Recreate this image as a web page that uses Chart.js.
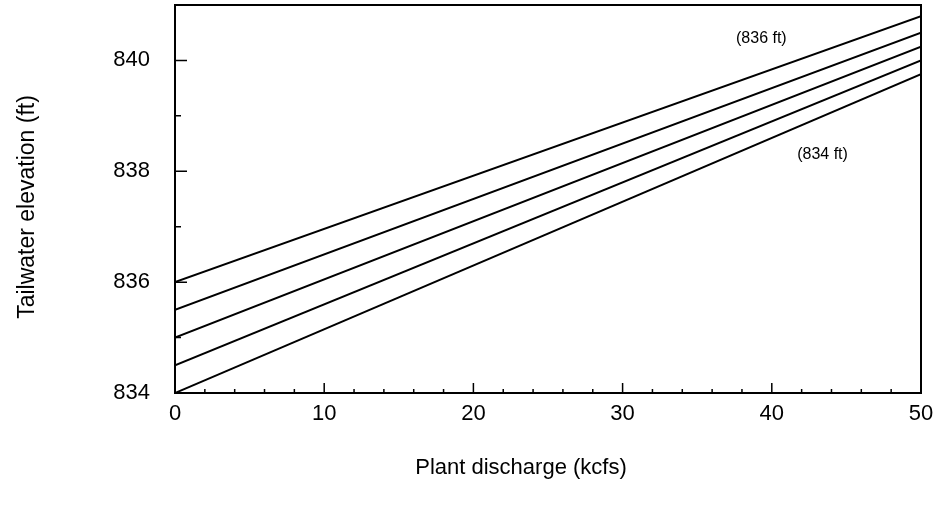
<!DOCTYPE html>
<html>
<head>
<meta charset="utf-8">
<script src="https://cdn.jsdelivr.net/npm/chart.js@4/dist/chart.umd.min.js"></script>
<style>
  body { margin: 0; background: #fff; }
</style>
</head>
<body>
<canvas id="tailwaterChart" width="937" height="522"></canvas>
<script>
// plant discharge (kcfs) at the two ends of each rating line
var discharge = [0, 50];

// tailwater elevation (ft) for each rating line, at 0 and 50 kcfs
var tailwater836 = [836.0, 840.8];
var tailwater8355 = [835.5, 840.5];
var tailwater835 = [835.0, 840.25];
var tailwater8345 = [834.5, 840.0];
var tailwater834 = [834.0, 839.75];

var xTicks = [0, 10, 20, 30, 40, 50];
var yTicks = [834, 836, 838, 840];

// line notes in data coordinates
var noteText = ['(836 ft)', '(834 ft)'];
var noteX = [39.3, 43.4];
var noteY = [840.4, 838.3];

var xTitle = 'Plant discharge (kcfs)';
var yTitle = 'Tailwater elevation (ft)';

function toPoints(ys) {
    return discharge.map(function (d, i) { return { x: d, y: ys[i] }; });
}

var allLines = [tailwater836, tailwater8355, tailwater835, tailwater8345, tailwater834];

var font = '"Liberation Sans", Arial, Helvetica, sans-serif';

// box frame, inward tick marks, axis titles and the line notes
var frameTicks = {
    id: 'frameTicks',
    afterDraw: function (chart) {
        var ctx = chart.ctx;
        var a = chart.chartArea;
        var x = chart.scales.x;
        var y = chart.scales.y;
        ctx.save();
        ctx.strokeStyle = '#000';
        ctx.lineWidth = 2;
        ctx.beginPath();
        ctx.moveTo(a.left, a.top);
        ctx.lineTo(a.right, a.top);
        ctx.lineTo(a.right, a.bottom);
        ctx.stroke();

        ctx.lineWidth = 1.5;
        ctx.beginPath();
        for (var v = 2; v < 50; v += 2) {
            var px = x.getPixelForValue(v);
            var len = v % 10 === 0 ? 10 : 4;
            ctx.moveTo(px, a.bottom);
            ctx.lineTo(px, a.bottom - len);
        }
        for (var w = 835; w <= 840; w++) {
            var py = y.getPixelForValue(w);
            var l2 = w % 2 === 0 ? 12 : 6;
            ctx.moveTo(a.left, py);
            ctx.lineTo(a.left + l2, py);
        }
        ctx.stroke();

        ctx.fillStyle = '#000';
        ctx.textAlign = 'center';
        ctx.textBaseline = 'middle';
        ctx.font = '16px ' + font;
        noteText.forEach(function (t, i) {
            ctx.fillText(t, x.getPixelForValue(noteX[i]), y.getPixelForValue(noteY[i]));
        });

        ctx.font = '22px ' + font;
        ctx.fillText(xTitle, 521, 468);

        ctx.font = '23px ' + font;
        ctx.translate(28, 207);
        ctx.rotate(-Math.PI / 2);
        ctx.fillText(yTitle, 0, 0);
        ctx.restore();
    }
};

function noPad(scale) {
    scale.paddingTop = 0;
    scale.paddingBottom = 0;
    scale.paddingLeft = 0;
    scale.paddingRight = 0;
}

var ctx = document.getElementById('tailwaterChart').getContext('2d');
var tailwaterChart = new Chart(ctx, {
    type: 'scatter',
    data: {
        datasets: allLines.map(function (ys) {
            return {
                data: toPoints(ys),
                showLine: true,
                borderColor: '#000',
                borderWidth: 2,
                pointRadius: 0,
                fill: false
            };
        })
    },
    options: {
        responsive: false,
        animation: false,
        layout: { padding: { top: 5, right: 16, left: 0, bottom: 0 } },
        plugins: {
            legend: { display: false },
            tooltip: { enabled: false }
        },
        scales: {
            x: {
                type: 'linear',
                min: 0,
                max: 50,
                afterBuildTicks: function (scale) {
                    scale.ticks = xTicks.map(function (v) { return { value: v }; });
                },
                afterFit: function (scale) { scale.height = 129; noPad(scale); },
                grid: { display: false, drawTicks: false },
                border: { display: true, color: '#000', width: 2 },
                ticks: {
                    color: '#000',
                    padding: 8,
                    maxRotation: 0,
                    font: { family: font, size: 22 }
                }
            },
            y: {
                type: 'linear',
                min: 834,
                max: 841,
                afterBuildTicks: function (scale) {
                    scale.ticks = yTicks.map(function (v) { return { value: v }; });
                },
                afterFit: function (scale) { scale.width = 175; noPad(scale); },
                grid: { display: false, drawTicks: false },
                border: { display: true, color: '#000', width: 2 },
                ticks: {
                    color: '#000',
                    padding: 25,
                    font: { family: font, size: 22 }
                }
            }
        }
    },
    plugins: [frameTicks]
});
</script>
</body>
</html>
